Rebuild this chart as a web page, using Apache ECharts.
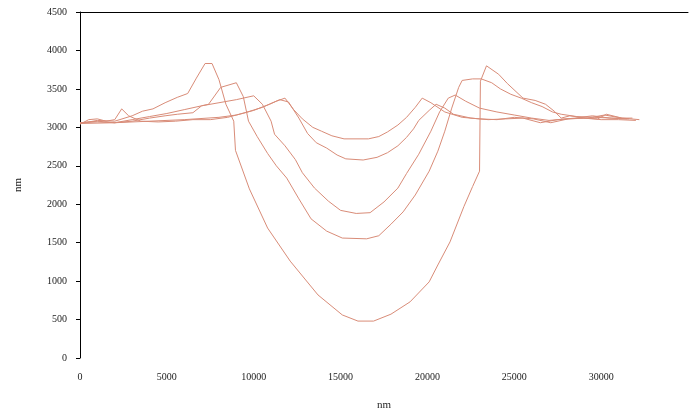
<!DOCTYPE html>
<html>
<head>
<meta charset="utf-8">
<script src="https://cdn.jsdelivr.net/npm/echarts@6/dist/echarts.min.js"></script>
<style>html,body{margin:0;padding:0;background:#fff}#c{width:691px;height:416px}</style>
</head>
<body>
<div id="c"></div>
<script>
var yTicks = [0, 500, 1000, 1500, 2000, 2500, 3000, 3500, 4000, 4500];
var xTicks = [0, 5000, 10000, 15000, 20000, 25000, 30000];

var xA = [0,500,1000,1500,2000,2400,2800,3500,4500,5500,6500,7500,8500,9500,10500,11300,11800,12300,12800,13400,13900,14500,15200,16600,17200,17700,18300,18800,19300,19700,20200,21000,22000,23000,24000,25000,26100,27100,28100,29200,30200,31200,32200];
var yA = [3040,3100,3110,3080,3100,3240,3150,3080,3070,3080,3100,3100,3130,3190,3260,3340,3380,3230,3110,3000,2950,2890,2850,2850,2880,2940,3030,3130,3260,3380,3320,3200,3130,3110,3100,3130,3110,3060,3110,3120,3160,3120,3100];

var xB = [0,2000,4000,6000,8000,9000,10000,10900,11500,12000,12600,13100,13600,14200,14800,15300,16300,17100,17700,18300,18800,19200,19500,20100,20500,21000,21500,22500,23500,24500,25500,26500,27500,28500,29500,30500,31500];
var yB = [3050,3060,3080,3100,3130,3160,3220,3300,3360,3330,3120,2920,2800,2730,2640,2590,2575,2610,2670,2760,2870,2980,3090,3220,3300,3250,3170,3120,3100,3110,3120,3060,3100,3120,3150,3120,3110];

var xC = [0,1000,2000,3000,4000,5000,6000,7000,8000,9000,10000,10500,11000,11200,11800,12400,12800,13500,14300,15000,15900,16700,17500,18300,18800,19500,20200,20700,21200,21600,22200,23000,24000,25000,26000,27000,28000,29000,30000,31000,32000];
var yC = [3060,3080,3060,3100,3140,3180,3230,3280,3320,3360,3410,3300,3080,2910,2760,2580,2410,2210,2040,1920,1880,1890,2030,2210,2400,2650,2950,3200,3380,3420,3340,3250,3200,3160,3120,3090,3110,3120,3100,3100,3090];

var xD = [0,1000,2000,3000,4000,4900,5600,6500,7000,7400,8100,9000,9400,9700,10200,10800,11300,11900,12600,13300,14200,15100,16500,17200,17900,18600,19300,20100,20600,21000,21400,21800,22000,22600,23100,23700,24200,24800,25400,26000,26600,27200,27700,28600,29600,30600,31600];
var yD = [3060,3070,3060,3080,3120,3150,3170,3190,3280,3300,3520,3580,3400,3080,2880,2660,2500,2340,2070,1810,1650,1560,1550,1590,1740,1900,2120,2430,2690,2950,3250,3520,3610,3630,3630,3580,3500,3430,3380,3320,3270,3200,3170,3140,3130,3120,3110];

var xE = [0,1000,2000,3000,3600,4200,4900,5600,6200,6700,7200,7600,8000,8400,8850,8950,9750,10800,12100,13700,15100,16000,16900,17900,19000,20100,20600,21300,22100,22600,23000,23050,23400,24100,24600,25500,26200,26800,27300,27700,28200,29100,29800,30300,31200,31800];
var yE = [3050,3090,3080,3150,3210,3240,3320,3390,3440,3640,3830,3830,3620,3300,3080,2700,2200,1690,1260,820,560,480,480,570,730,990,1210,1510,1970,2230,2430,3600,3800,3690,3570,3380,3350,3300,3210,3120,3150,3120,3110,3170,3120,3120];

function zip(xs, ys) { return xs.map(function (x, i) { return [x, ys[i]]; }); }

var seriesList = [[xA, yA], [xB, yB], [xC, yC], [xD, yD], [xE, yE]];
var lineColor = '#d98c78';
var font = 'Liberation Serif';

var chart = echarts.init(document.getElementById('c'), null, { renderer: 'canvas' });
chart.setOption({
  animation: false,
  backgroundColor: '#ffffff',
  grid: { left: 80, top: 12, width: 658, bottom: 58, containLabel: false },
  xAxis: [{
    type: 'value', min: 0, max: 35000, interval: 5000, position: 'bottom',
    name: 'nm', nameLocation: 'middle', nameGap: 42,
    nameTextStyle: { fontFamily: font, fontSize: 11, color: '#222' },
    axisLine: { show: false }, axisTick: { show: false }, splitLine: { show: false },
    axisLabel: { fontFamily: font, fontSize: 10, color: '#222', margin: 14,
      formatter: function (v) { return xTicks.indexOf(v) >= 0 ? String(v) : ''; } }
  }, {
    type: 'value', min: 0, max: 35000, position: 'top',
    axisLine: { show: true, lineStyle: { color: '#000', width: 1 } },
    axisTick: { show: false }, axisLabel: { show: false }, splitLine: { show: false }
  }],
  yAxis: {
    type: 'value', min: 0, max: 4500, interval: 500,
    name: 'nm', nameLocation: 'middle', nameGap: 56, nameRotate: 90,
    nameTextStyle: { fontFamily: font, fontSize: 11, color: '#222' },
    axisLine: { show: true, lineStyle: { color: '#000', width: 1 } },
    axisTick: { show: true, length: 4, inside: false, lineStyle: { color: '#000' } },
    splitLine: { show: false },
    axisLabel: { fontFamily: font, fontSize: 10, color: '#222', margin: 13,
      formatter: function (v) { return yTicks.indexOf(v) >= 0 ? String(v) : ''; } }
  },
  series: seriesList.map(function (s) {
    return {
      type: 'line', data: zip(s[0], s[1]), showSymbol: false, smooth: false,
      lineStyle: { color: lineColor, width: 1 }, silent: true
    };
  })
});
</script>
</body>
</html>
